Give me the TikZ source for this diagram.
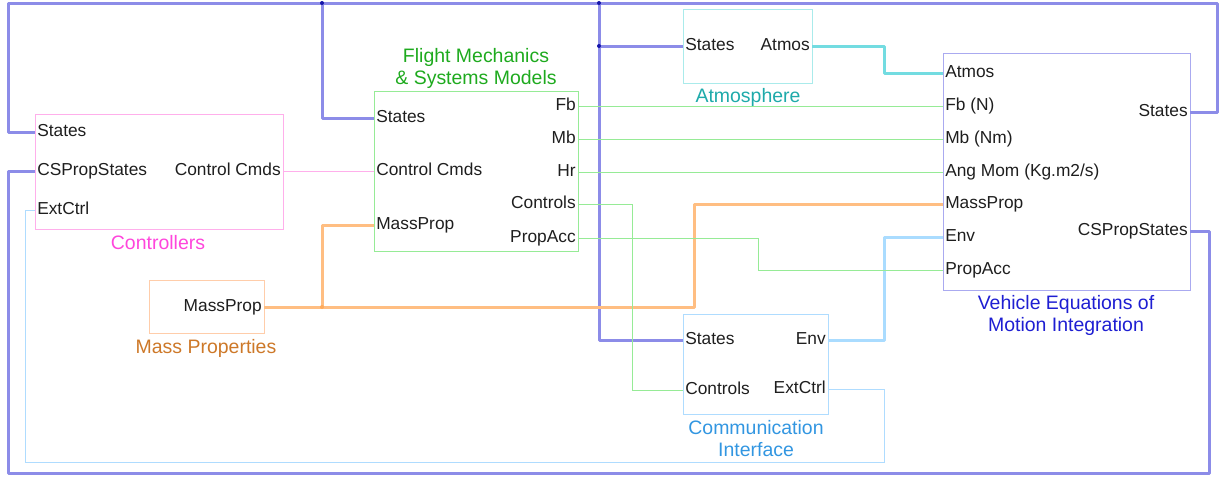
\documentclass[tikz,border=0pt]{standalone}
\usepackage{fontspec}
\setmainfont{Liberation Sans}
\usetikzlibrary{positioning}

\definecolor{wireblue}{RGB}{140,140,232}
\definecolor{dotblue}{RGB}{20,20,170}
\definecolor{eomline}{RGB}{170,170,240}
\definecolor{eomtext}{RGB}{30,30,210}
\definecolor{ctrlline}{RGB}{255,175,235}
\definecolor{ctrltext}{RGB}{255,70,220}
\definecolor{fmline}{RGB}{150,235,150}
\definecolor{fmtext}{RGB}{30,170,30}
\definecolor{atmline}{RGB}{170,235,235}
\definecolor{atmtext}{RGB}{30,170,170}
\definecolor{atmwire}{RGB}{115,220,225}
\definecolor{mpline}{RGB}{255,205,170}
\definecolor{mptext}{RGB}{205,120,40}
\definecolor{mpwire}{RGB}{255,190,130}
\definecolor{comline}{RGB}{175,220,255}
\definecolor{comtext}{RGB}{50,150,225}
\definecolor{envwire}{RGB}{170,220,255}
\definecolor{porttext}{RGB}{30,30,30}

\tikzset{
  blockbox/.style={draw, line width=0.75pt, inner sep=0pt, outer sep=0pt},
  portin/.style={anchor=west, inner sep=1.5pt, text height=0.72em, text depth=0pt, text=porttext},
  portout/.style={anchor=east, inner sep=1.5pt, text height=0.72em, text depth=0pt, text=porttext},
  blocktitle/.style={align=center, font=\fontsize{14.6}{16.5}\selectfont},
  thickwire/.style={line width=2.25pt, line join=round},
  thinwire/.style={line width=0.75pt},
}

\begin{document}
\begin{tikzpicture}[x=0.75pt, y=-0.75pt, font=\fontsize{13}{15}\selectfont]
    \useasboundingbox (0,0) rectangle (1219,476);

    % blocks
    \node[blockbox, draw=ctrlline, minimum width=186pt, minimum height=86.25pt] (ctrl) at (159,171.5) {};
    \node[blockbox, draw=fmline, minimum width=153pt, minimum height=120pt] (fm) at (476,171) {};
    \node[blockbox, draw=atmline, minimum width=96.75pt, minimum height=55.5pt] (atm) at (747.5,46) {};
    \node[blockbox, draw=eomline, minimum width=185.25pt, minimum height=177.75pt] (eom) at (1066.5,171.5) {};
    \node[blockbox, draw=mpline, minimum width=86.25pt, minimum height=39.75pt] (mp) at (206.5,306.5) {};
    \node[blockbox, draw=comline, minimum width=108.75pt, minimum height=75pt] (com) at (755.5,364) {};

    % block titles
    \node[blocktitle, text=ctrltext] (ctrlTitle) at (158,243) {Controllers};
    \node[blocktitle, text=fmtext] (fmTitle) at (476,68) {Flight Mechanics\\\& Systems Models};
    \node[blocktitle, text=atmtext] (atmTitle) at (748,97) {Atmosphere};
    \node[blocktitle, text=eomtext] (eomTitle) at (1066,315) {Vehicle Equations of\\Motion Integration};
    \node[blocktitle, text=mptext] (mpTitle) at (206,348) {Mass Properties};
    \node[blocktitle, text=comtext] (comTitle) at (756,439) {Communication\\Interface};

    % ports of the controllers
    \node[portin] (ctrlStates) at (35,132) {States};
    \node[portin] (ctrlCSP) at (35,171) {CSPropStates};
    \node[portin] (ctrlExt) at (35,210) {ExtCtrl};
    \node[portout] (ctrlCmds) at (283,171) {Control Cmds};

    % ports of the flight mechanics models
    \node[portin] (fmStates) at (374,118) {States};
    \node[portin] (fmCmds) at (374,171) {Control Cmds};
    \node[portin] (fmMass) at (374,225) {MassProp};
    \node[portout] (fmFb) at (578,106) {Fb};
    \node[portout] (fmMb) at (578,139) {Mb};
    \node[portout] (fmHr) at (578,172) {Hr};
    \node[portout] (fmControls) at (578,204) {Controls};
    \node[portout] (fmPropAcc) at (578,238) {PropAcc};

    % ports of the atmosphere
    \node[portin] (atmStates) at (683,46) {States};
    \node[portout] (atmAtmos) at (812,46) {Atmos};

    % ports of the equations of motion
    \node[portin] (eomAtmos) at (943,73) {Atmos};
    \node[portin] (eomFb) at (943,106) {Fb (N)};
    \node[portin] (eomMb) at (943,139) {Mb (Nm)};
    \node[portin] (eomHr) at (943,172) {Ang Mom (Kg.m2/s)};
    \node[portin] (eomMass) at (943,204) {MassProp};
    \node[portin] (eomEnv) at (943,237) {Env};
    \node[portin] (eomPropAcc) at (943,270) {PropAcc};
    \node[portout] (eomStates) at (1190,112) {States};
    \node[portout] (eomCSP) at (1190,231) {CSPropStates};

    % ports of mass properties and communication
    \node[portout] (mpOut) at (264,307) {MassProp};
    \node[portin] (comStates) at (683,340) {States};
    \node[portin] (comControls) at (683,390) {Controls};
    \node[portout] (comEnv) at (828,340) {Env};
    \node[portout] (comExt) at (828,389) {ExtCtrl};

    % junctions
    \coordinate (jStatesA) at (322,3);
    \coordinate (jStatesB) at (599,3);
    \coordinate (jStatesC) at (599,46);
    \coordinate (jMass) at (322,307);

    % states bus
    \draw[thickwire, wireblue] (eomStates.east) -| (1217,3) -- (8,3) |- (ctrlStates.west);
    \draw[thickwire, wireblue] (jStatesA) |- (fmStates.west);
    \draw[thickwire, wireblue] (jStatesB) |- (comStates.west);
    \draw[thickwire, wireblue] (jStatesC) -- (atmStates.west);
    \draw[thickwire, wireblue] (eomCSP.east) -| (1209,473) -| (8,171) -- (ctrlCSP.west);
    \foreach \j in {jStatesA, jStatesB, jStatesC}
        \fill[dotblue] (\j) circle (2);

    % mass properties
    \draw[thickwire, mpwire] (mpOut.east) -- (694,307) |- (eomMass.west);
    \draw[thickwire, mpwire] (jMass) |- (fmMass.west);
    \fill[mpwire!70!orange] (jMass) circle (2);

    % atmosphere and environment
    \draw[thickwire, atmwire] (atmAtmos.east) -- (884,46) |- (eomAtmos.west);
    \draw[thickwire, envwire] (comEnv.east) -- (884,340) |- (eomEnv.west);
    \draw[thinwire, comline] (comExt.east) -| (884,462) -| (25,210) -- (ctrlExt.west);

    % forces, moments and controls
    \draw[thinwire, ctrlline] (ctrlCmds.east) -- (fmCmds.west);
    \draw[thinwire, fmline] (fmFb.east) -- (eomFb.west);
    \draw[thinwire, fmline] (fmMb.east) -- (eomMb.west);
    \draw[thinwire, fmline] (fmHr.east) -- (eomHr.west);
    \draw[thinwire, fmline] (fmControls.east) -- (632,204) |- (comControls.west);
    \draw[thinwire, fmline] (fmPropAcc.east) -- (758,238) |- (eomPropAcc.west);
\end{tikzpicture}
\end{document}
